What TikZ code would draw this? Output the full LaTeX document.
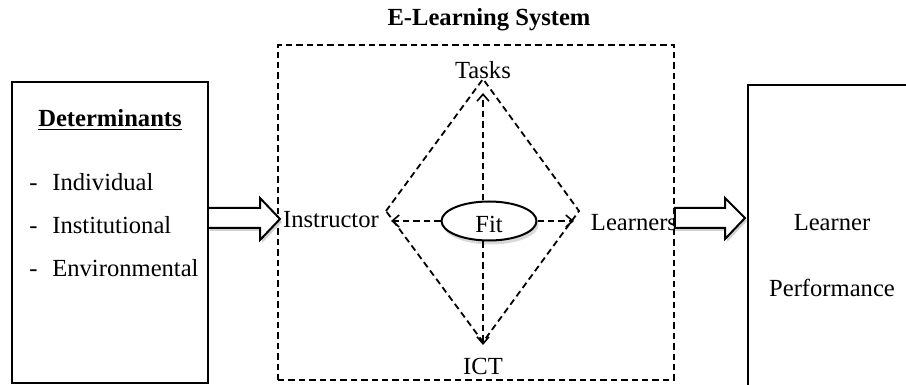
\documentclass[tikz,border=0pt]{standalone}
\usepackage{fontspec}
\setmainfont{Liberation Serif}
\usetikzlibrary{arrows.meta,shapes.geometric}
\begin{document}
\begin{tikzpicture}[x=0.5pt,y=-0.5pt,
  txt/.style={font=\fontsize{12.3}{14}\selectfont, inner sep=0pt},
  btxt/.style={font=\fontsize{12.3}{14}\selectfont\bfseries, inner sep=0pt},
  solidbox/.style={draw, line width=1pt, rectangle, inner sep=0pt},
  dashln/.style={line width=0.9pt, dash pattern=on 3.2pt off 2pt},
  dasharrow/.style={dashln, -{Straight Barb[length=3.5pt,width=6pt,line width=0.8pt]}},
  blockarrow/.style={draw, line width=1pt, fill=white, line join=miter},
  shade/.style={fill=black!18, draw=none}]
\useasboundingbox (0,0) rectangle (906,385);

% title of the middle frame
\node[btxt] (title) at (489,20) {E-Learning System};

% left box: determinants
\node[solidbox, minimum width=98pt, minimum height=150.5pt] (det) at (110,232.5) {};
\node[btxt] (dethead) at (110,120) {\underline{Determinants}};
\node[txt, anchor=west] (d1) at (29,182) {-\hspace{0.6em}Individual};
\node[txt, anchor=west] (d2) at (29,225) {-\hspace{0.6em}Institutional};
\node[txt, anchor=west] (d3) at (29,268) {-\hspace{0.6em}Environmental};

% dashed frame of the e-learning system
\node[draw, dashln, rectangle, minimum width=198pt, minimum height=167.5pt, inner sep=0pt] (sys) at (476,212.5) {};

% right box: learner performance (runs past the page edge)
\begin{scope}
  \clip (0,0) rectangle (906,385);
  \node[solidbox, minimum width=106pt, minimum height=177.5pt] (perf) at (854,262.5) {};
\end{scope}
\node[txt] (lp1) at (832,223) {Learner};
\node[txt] (lp2) at (832,288) {Performance};

% corner labels of the diamond
\node[txt] (tasks) at (483,70) {Tasks};
\node[txt] (ict) at (483,366) {ICT};
\node[txt] (instr) at (331,220) {Instructor};
\node[txt] (learn) at (634,223) {Learners};

% diamond corners and arrow tips
\coordinate (vT) at (483,79);
\coordinate (vL) at (386,211);
\coordinate (vR) at (579,211);
\coordinate (vB) at (483,342);
\coordinate (tT) at (483,93);
\coordinate (tB) at (483,345);
\coordinate (tL) at (391,221);
\coordinate (tR) at (574,221);

\draw[dashln] (vL) -- (vT) -- (vR) -- (vB) -- (vL);

% central fit ellipse with soft shadow
\fill[black!15] (491,225) ellipse [x radius=47.5, y radius=19.5];
\node[draw, ellipse, line width=1pt, fill=white, minimum width=47.5pt, minimum height=19.5pt, inner sep=0pt] (fit) at (489,221) {};
\node[txt] (fittxt) at (489,224) {Fit};

\draw[dasharrow] (vT |- fit.north) -- (tT);
\draw[dasharrow] (vB |- fit.south) -- (tB);
\draw[dasharrow] (fit.west) -- (tL);
\draw[dasharrow] (fit.east) -- (tR);

% block arrows between the boxes
\fill[shade] (210,211) -- (262,211) -- (262,201) -- (282,222) -- (262,243) -- (262,231) -- (210,231) -- cycle;
\draw[blockarrow] (det.east |- 0,208) -- (260,208) -- (260,198) -- (280,219) -- (260,240) -- (260,228) -- (det.east |- 0,228);
\fill[shade] (675,211) -- (727,211) -- (727,201) -- (747,221) -- (727,242) -- (727,231) -- (675,231) -- cycle;
\draw[blockarrow] (sys.east |- 0,208) -- (725,208) -- (725,198) -- (745,218) -- (725,239) -- (725,228) -- (sys.east |- 0,228) -- cycle;
\end{tikzpicture}
\end{document}
